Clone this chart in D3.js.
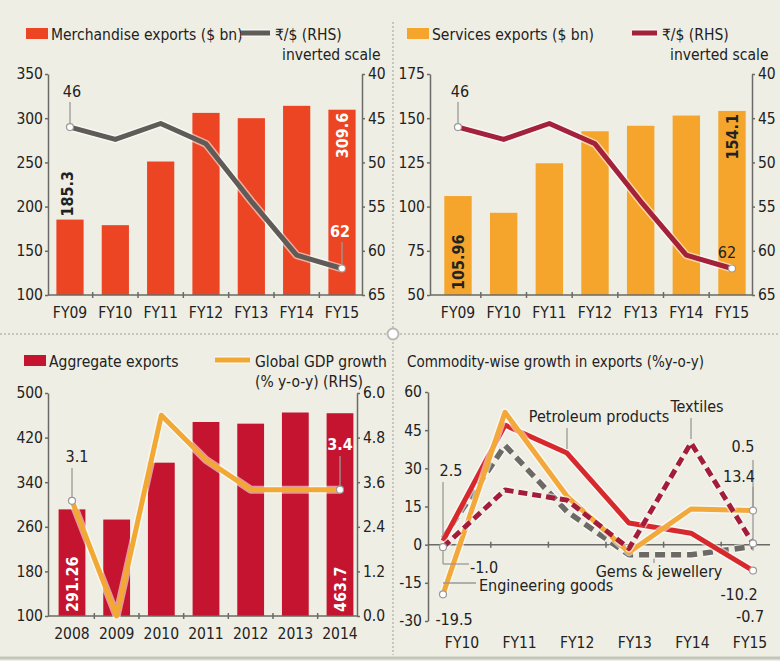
<!DOCTYPE html>
<html lang="en">
<head>
<meta charset="UTF-8">
<title>India exports</title>
<style>
  html,body{margin:0;padding:0;background:#efeee4;}
  svg text{font-family:"Liberation Sans Narrow","DejaVu Sans Condensed",sans-serif;fill:#222;}
</style>
</head>
<body>
<svg id="chart" width="780" height="661"></svg>
<script src="https://d3js.org/d3.v7.min.js"></script>
<script>
// top panels
const fyTop = ["FY09","FY10","FY11","FY12","FY13","FY14","FY15"];
const merchExports = [185.3,179,251,306,300,314,309.6];
const servicesExports = [105.96,96.5,124.5,142.6,145.7,151.5,154.1];
const rupeePerDollar = [46,47.4,45.6,47.9,54.4,60.5,62];
const merchTicks = [100,150,200,250,300,350];
const servicesTicks = [50,75,100,125,150,175];
const rupeeTicks = [40,45,50,55,60,65];

// bottom left
const years = ["2008","2009","2010","2011","2012","2013","2014"];
const aggregateExports = [291.26,273,375,448,445,465,463.7];
const globalGdp = [3.1,0.0,5.4,4.2,3.4,3.4,3.4];
const aggTicks = [100,180,260,340,420,500];
const gdpTicks = [0,1.2,2.4,3.6,4.8,6.0];

// bottom right
const fyBottom = ["FY10","FY11","FY12","FY13","FY14","FY15"];
const petroleum = [1.5,47,36,8.5,4.5,-10.2];
const engineering = [-19.5,52,19,-3,14,13.4];
const gemsJewellery = [2.5,39,13,-4,-4,-0.7];
const textiles = [-1.0,21.5,17.5,-1.5,40,0.5];
const growthTicks = [-30,-15,0,15,30,45,60];

const svg = d3.select("#chart");
const AX = "#6a6a66", LEAD = "#9a9a96";
// plain hyphen for negatives, like the print graphic
const loc = d3.formatLocale({decimal:".",thousands:",",grouping:[3],currency:["$",""],minus:"-"});

// dividers
svg.append("line").attr("x1",0).attr("x2",780).attr("y1",334).attr("y2",334)
  .attr("stroke","#b9b9b2").attr("stroke-width",1.5).attr("stroke-dasharray","2,2");
svg.append("line").attr("x1",393).attr("x2",393).attr("y1",22).attr("y2",655)
  .attr("stroke","#b9b9b2").attr("stroke-width",1.5).attr("stroke-dasharray","2,2");
svg.append("circle").attr("cx",393).attr("cy",334).attr("r",5.5)
  .attr("fill","#fff").attr("stroke","#b9b9b2").attr("stroke-width",2);
svg.append("line").attr("x1",0).attr("x2",780).attr("y1",658).attr("y2",658)
  .attr("stroke","#c4c5bc").attr("stroke-width",3);

function styleAxis(g){
  g.select(".domain").attr("stroke",AX).attr("stroke-width",1.5);
  g.selectAll(".tick line").attr("stroke",AX).attr("stroke-width",1.5);
  g.selectAll(".tick text").attr("font-size",15.5).attr("fill","#222")
    .attr("font-family",'"Liberation Sans Narrow",sans-serif');
}

function drawLine(g, pts, color, w, dash){
  const line = d3.line().x(d=>d[0]).y(d=>d[1]);
  g.append("path").attr("d",line(pts)).attr("fill","none")
    .attr("stroke","rgba(255,255,255,0.55)").attr("stroke-width",w+3)
    .attr("stroke-linejoin","round").attr("stroke-dasharray",dash||null);
  g.append("path").attr("d",line(pts)).attr("fill","none")
    .attr("stroke",color).attr("stroke-width",w)
    .attr("stroke-linejoin","round").attr("stroke-dasharray",dash||null);
}

function dot(g,x,y){
  g.append("circle").attr("cx",x).attr("cy",y).attr("r",3.5)
    .attr("fill","#fff").attr("stroke","#999").attr("stroke-width",1.2);
}

function leader(g,x1,y1,x2,y2){
  g.append("line").attr("x1",x1).attr("y1",y1).attr("x2",x2).attr("y2",y2)
    .attr("stroke",LEAD).attr("stroke-width",1.3);
}

function txt(g,x,y,s,opt){
  opt = opt||{};
  return g.append("text").attr("x",x).attr("y",y).text(s)
    .attr("font-size",opt.size||16).attr("text-anchor",opt.anchor||"start")
    .attr("font-weight",opt.bold?"bold":null)
    .style("fill",opt.fill||"#222");
}

function vtxt(g,cx,y,s,anchor,fill){
  g.append("text").attr("transform",`translate(${cx+6},${y}) rotate(-90)`)
    .text(s).attr("font-size",16).attr("font-weight","bold")
    .attr("text-anchor",anchor).style("fill",fill);
}

// bar + line dual axis panel
function panel(o){
  const g = svg.append("g");
  const x = d3.scalePoint().domain(o.cats).range(o.xr);
  const bw = x.step()*0.6;
  const y = d3.scaleLinear().domain(d3.extent(o.barTicks)).range([o.yb,o.yt]);
  const y2 = d3.scaleLinear().domain(o.lineDomain).range([o.yb,o.yt]);

  g.selectAll("rect.bar").data(o.bars).join("rect").attr("class","bar")
    .attr("x",(d,i)=>x(o.cats[i])-bw/2).attr("y",d=>y(d))
    .attr("width",bw).attr("height",d=>o.yb-y(d)).attr("fill",o.barColor);

  g.append("g").attr("transform",`translate(${o.axL},0)`)
    .call(d3.axisLeft(y).tickValues(o.barTicks).tickSizeInner(3).tickSizeOuter(0).tickPadding(2).tickFormat(o.barFmt))
    .call(styleAxis);
  g.append("g").attr("transform",`translate(${o.axR},0)`)
    .call(d3.axisRight(y2).tickValues(o.lineTicks).tickSizeInner(3).tickSizeOuter(0).tickPadding(3).tickFormat(o.lineFmt))
    .call(styleAxis);

  // baseline with ticks between categories
  g.append("line").attr("x1",o.axL).attr("x2",o.axR).attr("y1",o.yb).attr("y2",o.yb)
    .attr("stroke",AX).attr("stroke-width",1.5);
  d3.pairs(o.cats).forEach(([a,b])=>{
    const m = (x(a)+x(b))/2;
    g.append("line").attr("x1",m).attr("x2",m).attr("y1",o.yb-3).attr("y2",o.yb+3)
      .attr("stroke",AX).attr("stroke-width",1.5);
  });
  o.cats.forEach(c=>txt(g,x(c),o.yb+23,c,{anchor:"middle",size:15.5}));

  const pts = o.line.map((d,i)=>[x(o.cats[i]),y2(d)]);
  drawLine(g,pts,o.lineColor,5);
  return {g,x,y,y2,bw,pts};
}

function legend(g,rx,ry,label,lx1,lx2,lcolor,lines){
  g.append("rect").attr("x",rx).attr("y",ry).attr("width",22).attr("height",11).attr("fill",lines.fill);
  txt(g,rx+25,ry+12,label,{size:15.5});
  drawLine(g,[[lx1,ry+5],[lx2,ry+5]],lcolor,5);
  lines.text.forEach((t,i)=>txt(g,lines.tx[i],ry+12+i*20,t,{size:15.5}));
}

// ---- top left
const p1 = panel({cats:fyTop,bars:merchExports,line:rupeePerDollar,barTicks:merchTicks,
  lineTicks:rupeeTicks,lineDomain:[65,40],xr:[70,342],axL:48,axR:362,yt:74,yb:295,
  barColor:"#ec4524",lineColor:"#5f5b57",barFmt:loc.format("d"),lineFmt:loc.format("d")});
legend(p1.g,26,28,"Merchandise exports ($ bn)",241,270,"#5f5b57",
  {fill:"#ec4524",text:["₹/$ (RHS)","inverted scale"],tx:[275,282]});
{
  const x0 = p1.pts[0], xn = p1.pts[p1.pts.length-1];
  txt(p1.g,x0[0]+2,97,rupeePerDollar[0],{anchor:"middle"});
  leader(p1.g,x0[0],102,x0[0],x0[1]-3);
  dot(p1.g,x0[0],x0[1]);
  txt(p1.g,xn[0]-2,237,rupeePerDollar[6],{anchor:"middle",fill:"#fff",bold:true});
  leader(p1.g,xn[0],242,xn[0],xn[1]-3);
  dot(p1.g,xn[0],xn[1]);
  vtxt(p1.g,p1.x(fyTop[0])-3,p1.y(merchExports[0])-3,merchExports[0],"start","#222");
  vtxt(p1.g,p1.x(fyTop[6]),p1.y(merchExports[6])+3,merchExports[6],"end","#fff");
}

// ---- top right
const p2 = panel({cats:fyTop,bars:servicesExports,line:rupeePerDollar,barTicks:servicesTicks,
  lineTicks:rupeeTicks,lineDomain:[65,40],xr:[458,732],axL:430,axR:752,yt:74,yb:295,
  barColor:"#f5a52c",lineColor:"#a3213a",barFmt:loc.format("d"),lineFmt:loc.format("d")});
legend(p2.g,407,28,"Services exports ($ bn)",632,657,"#a3213a",
  {fill:"#f5a52c",text:["₹/$ (RHS)","inverted scale"],tx:[662,670]});
{
  const x0 = p2.pts[0], xn = p2.pts[p2.pts.length-1];
  txt(p2.g,x0[0]+2,97,rupeePerDollar[0],{anchor:"middle"});
  leader(p2.g,x0[0],102,x0[0],x0[1]-3);
  dot(p2.g,x0[0],x0[1]);
  txt(p2.g,xn[0]-5,258,rupeePerDollar[6],{anchor:"middle"});
  dot(p2.g,xn[0],xn[1]);
  vtxt(p2.g,p2.x(fyTop[0]),295-5,loc.format(".2f")(servicesExports[0]),"start","#222");
  vtxt(p2.g,p2.x(fyTop[6]),p2.y(servicesExports[6])+3,servicesExports[6],"end","#222");
}

// ---- bottom left
const p3 = panel({cats:years,bars:aggregateExports,line:globalGdp,barTicks:aggTicks,
  lineTicks:gdpTicks,lineDomain:[0,6],xr:[72,340],axL:48,axR:357,yt:393,yb:616,
  barColor:"#c4142f",lineColor:"#f2a933",barFmt:loc.format("d"),lineFmt:loc.format(".1f")});
legend(p3.g,24,355,"Aggregate exports",215,250,"#f2a933",
  {fill:"#c4142f",text:["Global GDP growth","(% y-o-y) (RHS)"],tx:[255,255]});
{
  const x0 = p3.pts[0], xn = p3.pts[p3.pts.length-1];
  txt(p3.g,x0[0]+5,462,globalGdp[0],{anchor:"middle"});
  leader(p3.g,x0[0],468,x0[0],x0[1]-3);
  dot(p3.g,x0[0],x0[1]);
  txt(p3.g,xn[0],450,globalGdp[6],{anchor:"middle",fill:"#fff",bold:true});
  leader(p3.g,xn[0],456,xn[0],xn[1]-3);
  dot(p3.g,xn[0],xn[1]);
  vtxt(p3.g,p3.x(years[0]),616-4,aggregateExports[0],"start","#fff");
  vtxt(p3.g,p3.x(years[6]),616-4,aggregateExports[6],"start","#fff");
}

// ---- bottom right: commodity-wise growth
{
  const g = svg.append("g");
  const xp = d3.scalePoint().domain(fyBottom).range([443,753]);
  const xl = d3.scalePoint().domain(fyBottom).range([462,750]);
  const y = d3.scaleLinear().domain([-30,60]).range([621,392]);

  txt(g,407,367,"Commodity-wise growth in exports (%y-o-y)",{size:15});

  g.append("g").attr("transform","translate(428,0)")
    .call(d3.axisLeft(y).tickValues(growthTicks).tickSizeInner(3).tickSizeOuter(0).tickPadding(3).tickFormat(loc.format("d")))
    .call(styleAxis);
  g.append("line").attr("x1",428).attr("x2",770).attr("y1",y(0)).attr("y2",y(0))
    .attr("stroke",AX).attr("stroke-width",1.5);
  d3.pairs(fyBottom).forEach(([a,b])=>{
    const m = (xl(a)+xl(b))/2;
    g.append("line").attr("x1",m).attr("x2",m).attr("y1",y(0)-3).attr("y2",y(0)+3)
      .attr("stroke",AX).attr("stroke-width",1.5);
  });
  fyBottom.forEach(c=>txt(g,xl(c),648,c,{anchor:"middle",size:15.5}));

  const pts = s=>s.map((d,i)=>[xp(fyBottom[i]),y(d)]);
  drawLine(g,pts(gemsJewellery),"#6d6965",5.5,"10,6");
  drawLine(g,pts(petroleum),"#d7282c",5);
  drawLine(g,pts(engineering),"#f3a83a",5);
  drawLine(g,pts(textiles),"#a31d3b",5,"9,5");

  const f = loc.format(".1f");
  const x0 = xp(fyBottom[0]), xn = xp(fyBottom[5]);
  // left-end labels
  txt(g,x0+8,476,f(gemsJewellery[0]),{anchor:"middle"});
  leader(g,x0,482,x0,y(gemsJewellery[0])-3);
  leader(g,x0,y(textiles[0])+4,x0,564);
  leader(g,x0,564,x0+26,564);
  txt(g,x0+27,573,f(textiles[0]));
  leader(g,x0,583,x0+33,583);
  txt(g,x0+36,591,"Engineering goods");
  txt(g,x0+11,625,f(engineering[0]),{anchor:"middle"});
  dot(g,x0,y(textiles[0]));
  dot(g,x0,y(engineering[0]));

  // series labels
  txt(g,599,422,"Petroleum products",{anchor:"middle"});
  leader(g,xp(fyBottom[2]),428,xp(fyBottom[2]),y(petroleum[2])-4);
  txt(g,697,412,"Textiles",{anchor:"middle"});
  leader(g,xp(fyBottom[4]),418,xp(fyBottom[4]),y(textiles[4])-4);
  txt(g,659,577,"Gems & jewellery",{anchor:"middle"});
  leader(g,xp(fyBottom[3])+25,y(gemsJewellery[3])+4,xp(fyBottom[3])+25,563);

  // right-end labels
  txt(g,xn-10,452,f(textiles[5]),{anchor:"middle"});
  leader(g,xn,460,xn,y(0)+6);
  txt(g,xn-14,482,f(engineering[5]),{anchor:"middle"});
  leader(g,xn,487,xn,y(engineering[5])-3);
  txt(g,xn-14,600,f(petroleum[5]),{anchor:"middle"});
  txt(g,xn-3,622,f(gemsJewellery[5]),{anchor:"middle"});
  dot(g,xn,y(engineering[5]));
  dot(g,xn,y(petroleum[5]));
  dot(g,xn,y(textiles[5]));
}
</script>
</body>
</html>
